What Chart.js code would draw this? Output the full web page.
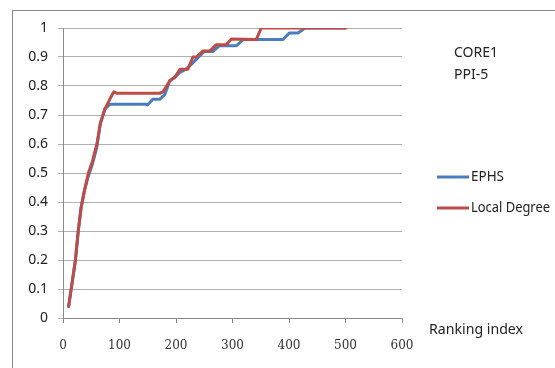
<!DOCTYPE html>
<html>
<head>
<meta charset="utf-8">
<script src="https://cdn.jsdelivr.net/npm/chart.js@4"></script>
<style>
  html, body { margin: 0; padding: 0; background: #fff; }
  #wrap { position: relative; width: 555px; height: 368px; }
  #frame { position: absolute; left: 12px; top: 10px; width: 560px; height: 380px;
           border-left: 1.5px solid #8c8c8c; border-top: 1.5px solid #8c8c8c; }
  canvas { position: absolute; left: 0; top: 0; }
</style>
</head>
<body>
<div id="wrap">
  <div id="frame"></div>
  <canvas id="rank-chart" width="555" height="368"></canvas>
</div>
<script>
// values
const ephsX = [10, 22, 27, 32, 38, 45, 52, 60, 66, 74, 83, 147, 150, 159, 171, 180, 189, 198, 207, 218, 230, 242, 250, 265, 277, 307, 319, 389, 401, 416, 428, 500];
const ephsY = [0.04, 0.2, 0.3, 0.38, 0.44, 0.49, 0.53, 0.59, 0.67, 0.72, 0.737, 0.737, 0.735, 0.754, 0.754, 0.77, 0.818, 0.83, 0.847, 0.858, 0.88, 0.904, 0.919, 0.919, 0.939, 0.939, 0.96, 0.96, 0.983, 0.983, 1, 1];
const degreeX = [10, 22, 27, 32, 38, 45, 52, 60, 66, 74, 83, 90, 95, 171, 177, 189, 198, 207, 221, 230, 236, 248, 260, 271, 289, 298, 342, 351, 500];
const degreeY = [0.04, 0.2, 0.3, 0.38, 0.44, 0.5, 0.54, 0.6, 0.67, 0.72, 0.755, 0.78, 0.775, 0.775, 0.78, 0.818, 0.83, 0.858, 0.858, 0.9, 0.9, 0.921, 0.921, 0.942, 0.942, 0.962, 0.96, 1, 1];
const xTicks = [0, 100, 200, 300, 400, 500, 600];
const yTicks = [0, 0.1, 0.2, 0.3, 0.4, 0.5, 0.6, 0.7, 0.8, 0.9, 1];
const seriesNames = ['EPHS', 'Local Degree'];
const seriesColors = ['#4a7ebb', '#be4b48'];
const noteLines = ['CORE1', 'PPI-5'];
const xTitle = 'Ranking index';

const pts = (xs, ys) => xs.map((x, i) => ({ x: x, y: ys[i] }));

// legend + side notes, drawn like the excel chart
const sideText = {
  id: 'sideText',
  afterDraw(chart) {
    const ctx = chart.ctx;
    ctx.save();
    ctx.fillStyle = '#222';
    ctx.font = '14px "Noto Sans"';
    ctx.textBaseline = 'middle';
    ctx.textAlign = 'left';
    noteLines.forEach((t, i) => ctx.fillText(t, 454, 53 + i * 22, t.length > 4 ? 45 : 36));
    chart.data.datasets.forEach((ds, i) => {
      const y = 177 + i * 31;
      ctx.strokeStyle = ds.borderColor;
      ctx.lineWidth = 3;
      ctx.beginPath();
      ctx.moveTo(437, y);
      ctx.lineTo(469, y);
      ctx.stroke();
      ctx.fillText(ds.label, 471, y, ds.label.length > 4 ? 79 : 33);
    });
    ctx.font = '15px "Noto Sans"';
    ctx.fillText(xTitle, 429, 330, 94);
    ctx.restore();
  }
};

const rankCtx = document.getElementById('rank-chart');
new Chart(rankCtx, {
  type: 'line',
  data: {
    datasets: [
      { label: seriesNames[0], data: pts(ephsX, ephsY), borderColor: seriesColors[0], order: 1 },
      { label: seriesNames[1], data: pts(degreeX, degreeY), borderColor: seriesColors[1], order: 0 }
    ]
  },
  options: {
    responsive: false,
    animation: false,
    layout: { padding: { left: 0, right: 153, top: 28, bottom: 0 } },
    elements: {
      point: { radius: 0 },
      line: { borderWidth: 3, tension: 0, borderJoinStyle: 'round', borderCapStyle: 'round', fill: false }
    },
    plugins: { legend: { display: false }, tooltip: { enabled: false } },
    scales: {
      x: {
        type: 'linear', min: 0, max: 600,
        afterBuildTicks: s => { s.ticks = xTicks.map(v => ({ value: v })); },
        afterFit: s => { s.height = 50; },
        grid: { drawOnChartArea: false, tickLength: 5, color: '#8c8c8c' },
        border: { color: '#8c8c8c', width: 1 },
        ticks: { color: '#333', font: { family: 'DejaVu Serif', size: 12 }, padding: 16, maxRotation: 0 }
      },
      y: {
        min: 0, max: 1,
        afterBuildTicks: s => { s.ticks = yTicks.map(v => ({ value: v })); },
        afterFit: s => { s.width = 63; },
        grid: { color: '#b0b0b0', tickLength: 5, lineWidth: 1 },
        border: { color: '#8c8c8c', width: 1 },
        ticks: { color: '#222', font: { family: 'Noto Sans', size: 14 }, padding: 10,
                 callback: v => String(Math.round(v * 10) / 10) }
      }
    }
  },
  plugins: [sideText]
});
</script>
</body>
</html>
